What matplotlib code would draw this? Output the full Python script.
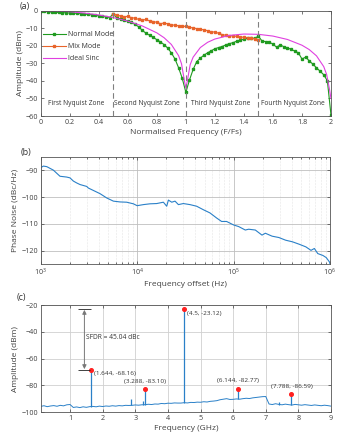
import numpy as np
import matplotlib
matplotlib.use("Agg")
import matplotlib.pyplot as plt

plt.rcParams['font.family'] = ['Open Sans', 'DejaVu Sans']
plt.rcParams['mathtext.fontset'] = 'custom'
plt.rcParams['mathtext.rm'] = 'Open Sans'

# ---------------- Panel (a) data ----------------
norm_freq = np.linspace(0, 2, 81)
normal_mode = [0, -0.3, -0.6, -0.8, -0.9, -1.0, -1.1, -1.2, -1.3, -1.4,
               -1.5, -1.7, -1.9, -2.1, -2.3, -2.6, -2.9, -3.2, -3.5, -3.9,
               -1.8,
               -4.2, -4.6, -5.4, -6.0, -6.6, -7.8, -9.2, -11.2, -12.8, -14.0,
               -15.2, -16.5, -17.8, -19.3, -21.3, -24.0, -27.5, -32.5, -38.5,
               -46.5,
               -39.5, -33.5, -29.0, -27.0, -25.3, -24.0, -22.8, -21.7, -21.0, -20.4,
               -19.5, -18.8, -18.2, -17.4, -16.8, -16.2, -15.8, -15.6, -15.8,
               -14.5,
               -17.3, -17.6, -18.0, -19.0, -20.8, -19.5, -20.5, -21.2, -22.0, -23.0,
               -24.0, -27.5, -26.5, -28.5, -30.5, -32.5, -34.5, -36.5, -40.0, -59.5]
mix_freq = np.linspace(0.5, 1.5, 41)
mix_mode = [-1.8, -2.6, -3.0, -3.4, -3.2, -4.0, -4.2, -5.0, -5.3, -5.0,
            -5.8, -6.2, -6.6, -7.4, -7.0, -7.5, -8.0, -8.3, -8.6, -8.8,
            -9.0, -9.5, -9.8, -10.2, -10.6, -10.9, -11.4, -12.3, -12.0, -12.9,
            -13.6, -14.0, -14.2, -14.4, -14.6, -14.9, -15.2, -15.3, -15.6, -16.0, -16.6]
sinc_freq = [0, 0.1, 0.2, 0.3, 0.4, 0.5, 0.6, 0.7, 0.8, 0.85, 0.9, 0.95, 0.97, 0.99,
             1.0, 1.01, 1.03, 1.05, 1.1, 1.15, 1.2, 1.3, 1.4, 1.5, 1.6, 1.7, 1.8,
             1.85, 1.9, 1.95, 1.97, 1.99, 2.0]
sinc_db = [0, -0.14, -0.58, -1.33, -2.42, -3.92, -5.94, -8.69, -12.62, -15.39, -19.23,
           -25.61, -30.2, -39.9, -44.0, -40.1, -30.7, -26.5, -20.97, -18.01, -16.14,
           -14.06, -13.30, -13.46, -14.46, -16.39, -19.67, -22.15, -25.72, -31.86,
           -36.36, -45.0, -50.0]
zone_lines = [0.5, 1.0, 1.5]
zone_labels = ["First Nyquist Zone", "Second Nyquist Zone", "Third Nyquist Zone", "Fourth Nyquist Zone"]
zone_centers = [0.245, 0.73, 1.24, 1.735]

# ---------------- Panel (b) data ----------------
pn_freq = [1000, 1066, 1155, 1352, 1585, 1860, 2013, 2181, 2362, 2558, 2999, 3119,
           3515, 4121, 4831, 5673, 6650, 7796, 9141, 10000, 11610, 13610, 15960,
           18710, 20270, 21090, 22860, 24720, 26790, 30140, 35320, 41400, 48530,
           56890, 66680, 75160, 84720, 100000, 112900, 132300, 143400, 168100,
           197100, 213600, 251000, 294800, 346600, 407600, 478600, 562300, 635000,
           688500, 746500, 843400, 914100, 990000, 1000000]
pn_db = [-89.0, -88.4, -88.6, -89.9, -92.2, -92.5, -92.8, -94.0, -94.7, -95.3, -96.0,
         -96.6, -97.5, -98.7, -100.3, -101.5, -101.8, -101.9, -102.5, -103.2, -102.8,
         -102.5, -102.4, -101.9, -103.4, -101.1, -101.9, -101.5, -102.8, -102.4,
         -102.8, -103.4, -104.7, -105.9, -107.8, -109.1, -109.1, -110.4, -111.0,
         -112.3, -112.0, -112.3, -114.2, -113.5, -114.6, -115.1, -116.1, -116.7,
         -117.6, -118.6, -119.9, -119.2, -121.1, -121.8, -122.6, -124.3, -125.0]

# ---------------- Panel (c) data ----------------
floor_freq = np.round(np.arange(0.1, 9.01, 0.1), 2)
floor_db = [-95.8, -95.3, -96.0, -95.5, -95.2, -95.7, -95.0, -95.4, -94.6, -94.4,
            -96.6, -96.2, -96.7, -96.1, -96.5, -96.0, -95.8, -96.1, -95.6, -95.9,
            -95.5, -95.7, -95.3, -95.6, -95.2, -95.4, -95.0, -95.1, -95.0, -94.7,
            -94.9, -94.6, -94.5, -94.2, -94.4, -94.0, -94.1, -93.6, -93.8, -93.4,
            -93.5, -93.2, -93.3, -93.3, -93.0, -93.2, -92.8, -92.9, -92.6, -92.7,
            -92.3, -92.5, -92.0, -91.8, -91.5, -90.8, -90.4, -90.0, -90.6, -90.5,
            -90.2, -90.4, -90.0, -89.7, -89.9, -89.4, -89.1, -88.8, -88.5, -88.4,
            -94.0, -94.4, -93.8, -94.3, -94.6, -94.1, -94.5, -94.8, -94.3, -94.6,
            -94.9, -94.5, -94.8, -95.1, -94.7, -95.0, -95.3, -94.9, -95.2, -95.6]
spike_freq = [1.644, 2.88, 3.25, 3.288, 4.5, 6.144, 7.4, 7.788]
spike_peak = [-68.16, -90.0, -91.5, -83.10, -23.12, -82.77, -92.5, -86.59]
spike_base = [-96.3, -95.1, -94.7, -94.6, -93.3, -90.5, -94.6, -94.4]
marker_freq = [1.644, 3.288, 4.5, 6.144, 7.788]
marker_db = [-68.16, -83.10, -23.12, -82.77, -86.59]
marker_text = ["(1.644, -68.16)", "(3.288, -83.10)", "(4.5, -23.12)", "(6.144, -82.77)", "(7.788, -86.59)"]
sfdr_top = -23.12
sfdr_bottom = -68.16

# ---------------- Figure ----------------
W, H = 348, 440
fig = plt.figure(figsize=(W / 100, H / 100), dpi=100)

def box(l, r, t, b):
    return [l / W, 1 - b / H, (r - l) / W, (b - t) / H]

tick_c = '#404040'
green = '#1f9a1f'
orange = '#e8642a'
magenta = '#e040e0'
blue = '#2a80c8'

def style(ax):
    ax.tick_params(direction='in', length=2.5, width=0.5, labelsize=5.2,
                   colors=tick_c, top=True, right=True, pad=2)
    ax.tick_params(which='minor', direction='in', length=1.5, width=0.4, top=True, right=True)
    for s in ax.spines.values():
        s.set_linewidth(0.6)
        s.set_color('#555555')

# (a)
ax1 = fig.add_axes(box(40.7, 331, 10.7, 116))
ax1.plot(norm_freq, normal_mode, '-s', color=green, lw=0.8, ms=1.8, label='Normal Mode')
ax1.plot(mix_freq, mix_mode, '-s', color=orange, lw=0.8, ms=1.8, label='Mix Mode')
ax1.plot(sinc_freq, sinc_db, '-', color=magenta, lw=0.8, label='Ideal Sinc')
for z in zone_lines:
    ax1.axvline(z, color='#808080', ls=(0, (5, 3)), lw=0.8)
for c, t in zip(zone_centers, zone_labels):
    ax1.text(c, -53, t, ha='center', va='center', fontsize=4.8, color='#333333')
ax1.set_xlim(0, 2)
ax1.set_ylim(-60, 0)
xt = [0, 0.2, 0.4, 0.6, 0.8, 1, 1.2, 1.4, 1.6, 1.8, 2]
ax1.set_xticks(xt)
ax1.set_xticklabels(['0', '0.2', '0.4', '0.6', '0.8', '1', '1.2', '1.4', '1.6', '1.8', '2'])
ax1.set_yticks([0, -10, -20, -30, -40, -50, -60])
style(ax1)
ax1.set_xlabel('Normalised Frequency (F/Fs)', fontsize=6, color=tick_c, labelpad=2)
ax1.set_ylabel('Amplitude (dBm)', fontsize=6, color=tick_c, labelpad=1)
leg = ax1.legend(loc='upper left', bbox_to_anchor=(-0.01, 0.86), frameon=False,
                 fontsize=5, handlelength=3.2, handletextpad=0.3, labelspacing=0.75,
                 borderpad=0.3)
for t in leg.get_texts():
    t.set_color('#333333')
fig.text(20 / W, 1 - 6 / H, '(a)', fontsize=6.5, color='#333333', va='center')

# (b)
ax2 = fig.add_axes(box(40.7, 330, 157, 264))
ax2.semilogx(pn_freq, pn_db, color=blue, lw=0.8)
ax2.set_xlim(1e3, 1e6)
ax2.set_ylim(-125, -85)
ax2.set_yticks([-90, -100, -110, -120])
ax2.grid(True, which='major', color='#bfbfbf', lw=0.6)
ax2.grid(True, which='minor', color='#d0d0d0', lw=0.4, ls=':')
style(ax2)
ax2.set_xlabel('Frequency offset (Hz)', fontsize=6, color=tick_c, labelpad=2)
ax2.set_ylabel('Phase Noise (dBc/Hz)', fontsize=6, color=tick_c, labelpad=2)
fig.text(21 / W, 1 - 152 / H, '(b)', fontsize=6.5, color='#333333', va='center')

# (c)
ax3 = fig.add_axes(box(40.7, 331, 305.3, 412))
ax3.plot(floor_freq, floor_db, color=blue, lw=0.7)
ax3.vlines(spike_freq, spike_base, spike_peak, color=blue, lw=0.9)
ax3.plot(marker_freq, marker_db, 'o', color='#ff2020', ms=2.6, mec='#ff2020')
offsets = [(2, -3), (0, 4), (2, -3), (0, 4), (0, 4)]
aligns = ['left', 'center', 'left', 'center', 'center']
valigns = ['center', 'bottom', 'center', 'bottom', 'bottom']
for f, d, t, o, ha, va in zip(marker_freq, marker_db, marker_text, offsets, aligns, valigns):
    ax3.annotate(t, (f, d), xytext=o, textcoords='offset points', ha=ha, va=va,
                 fontsize=4.6, color='#333333')
ax3.hlines([sfdr_top, sfdr_bottom], [1.25, 1.23], [1.65, 1.62], color='#222222', lw=0.6)
ax3.annotate('', xy=(1.44, sfdr_top - 0.3), xytext=(1.44, sfdr_bottom + 0.3),
             arrowprops=dict(arrowstyle='<|-|>', color='#777777', lw=0.7,
                             mutation_scale=6, shrinkA=0, shrinkB=0))
ax3.text(1.5, -44.5, 'SFDR = 45.04 dBc', fontsize=4.8, color='#333333', va='center')
ax3.set_xlim(0.1, 9)
ax3.set_ylim(-100, -20)
ax3.set_xticks(range(1, 10))
ax3.set_yticks([-20, -40, -60, -80, -100])
ax3.grid(True, color='#d0d0d0', lw=0.6)
style(ax3)
ax3.set_xlabel('Frequency (GHz)', fontsize=6, color=tick_c, labelpad=2)
ax3.set_ylabel('Amplitude (dBm)', fontsize=6, color=tick_c, labelpad=2)
fig.text(17 / W, 1 - 297 / H, '(c)', fontsize=6.5, color='#333333', va='center')

fig.savefig('out.png', dpi=100, facecolor='white')
